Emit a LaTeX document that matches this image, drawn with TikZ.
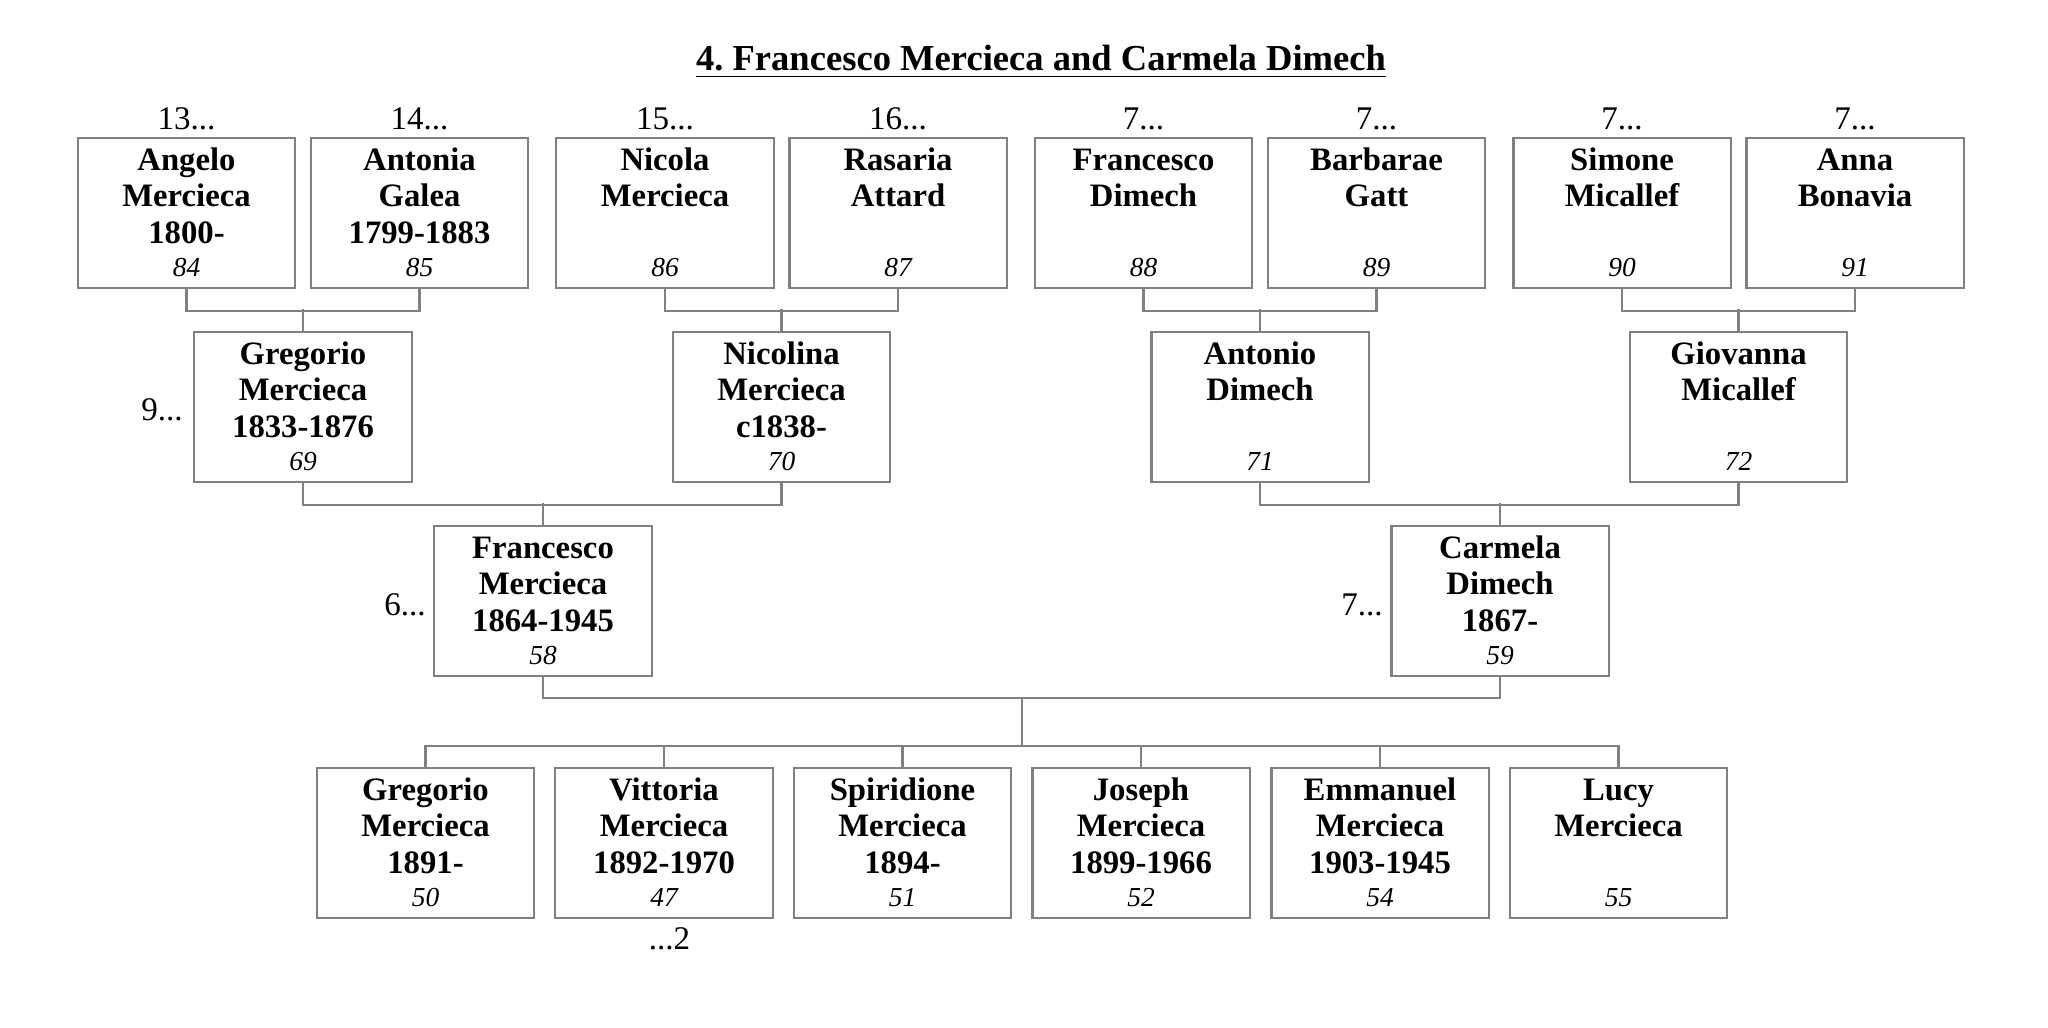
\documentclass[tikz,border=0pt]{standalone}
\usepackage{fontspec}
\setmainfont{Liberation Serif}
\usetikzlibrary{positioning}
\frenchspacing

\tikzset{
  pbox/.style={draw=black!50, line width=0.6pt, minimum width=2.17cm, minimum height=1.5cm, inner sep=0pt, anchor=north},
  pname/.style={anchor=north, align=center, inner sep=0pt, font=\fontsize{9.3}{10.4}\selectfont\bfseries},
  pnum/.style={anchor=base, inner sep=0pt, font=\fontsize{7.8}{9}\selectfont\itshape},
  ptag/.style={inner sep=0pt, font=\fontsize{9.4}{11}\selectfont},
  link/.style={draw=black!50, line width=0.6pt}
}
\newcommand{\person}[7]{%
  \node[pbox] (#1) at (#2,#3) {};
  \node[pname] (#1-name) at ([yshift=-0.07cm]#1.north) {\strut#4\\\strut#5\\\strut#6};
  \node[pnum] (#1-num) at ([yshift=0.13cm]#1.south) {#7};
}
\newcommand{\parents}[3]{%
  \draw[link] (#1.south) -- ++(0,22) -| (#2.south);
  \draw[link] (#3.north) -- ++(0,-22);
}

\begin{document}
\begin{tikzpicture}[x=0.01cm, y=-0.01cm]
\useasboundingbox (0,0) rectangle (2048,1028);
\node[anchor=base, inner sep=0pt, font=\fontsize{10.4}{12}\selectfont\bfseries] (title) at (1041,71) {\underline{4. Francesco Mercieca and Carmela Dimech}};

\person{p84}{186.5}{137}{Angelo}{Mercieca}{1800-}{84}
\person{p85}{419.5}{137}{Antonia}{Galea}{1799-1883}{85}
\person{p86}{665}{137}{Nicola}{Mercieca}{}{86}
\person{p87}{898}{137}{Rasaria}{Attard}{}{87}
\person{p88}{1143.5}{137}{Francesco}{Dimech}{}{88}
\person{p89}{1376.5}{137}{Barbarae}{Gatt}{}{89}
\person{p90}{1622}{137}{Simone}{Micallef}{}{90}
\person{p91}{1855}{137}{Anna}{Bonavia}{}{91}

\person{p69}{303}{331}{Gregorio}{Mercieca}{1833-1876}{69}
\person{p70}{781.5}{331}{Nicolina}{Mercieca}{c1838-}{70}
\person{p71}{1260}{331}{Antonio}{Dimech}{}{71}
\person{p72}{1738.5}{331}{Giovanna}{Micallef}{}{72}

\person{p58}{543}{525}{Francesco}{Mercieca}{1864-1945}{58}
\person{p59}{1500}{525}{Carmela}{Dimech}{1867-}{59}

\person{p50}{425.5}{767}{Gregorio}{Mercieca}{1891-}{50}
\person{p47}{664}{767}{Vittoria}{Mercieca}{1892-1970}{47}
\person{p51}{902.5}{767}{Spiridione}{Mercieca}{1894-}{51}
\person{p52}{1141}{767}{Joseph}{Mercieca}{1899-1966}{52}
\person{p54}{1380}{767}{Emmanuel}{Mercieca}{1903-1945}{54}
\person{p55}{1618.5}{767}{Lucy}{Mercieca}{}{55}

\node[ptag, anchor=base] (t84) at ([yshift=0.07cm]p84.north) {13...};
\node[ptag, anchor=base] (t85) at ([yshift=0.07cm]p85.north) {14...};
\node[ptag, anchor=base] (t86) at ([yshift=0.07cm]p86.north) {15...};
\node[ptag, anchor=base] (t87) at ([yshift=0.07cm]p87.north) {16...};
\node[ptag, anchor=base] (t88) at ([yshift=0.07cm]p88.north) {7...};
\node[ptag, anchor=base] (t89) at ([yshift=0.07cm]p89.north) {7...};
\node[ptag, anchor=base] (t90) at ([yshift=0.07cm]p90.north) {7...};
\node[ptag, anchor=base] (t91) at ([yshift=0.07cm]p91.north) {7...};
\node[ptag, anchor=base east] (t69) at ([xshift=-0.1cm, yshift=-0.135cm]p69.west) {9...};
\node[ptag, anchor=base east] (t58) at ([xshift=-0.07cm, yshift=-0.14cm]p58.west) {6...};
\node[ptag, anchor=base east] (t59) at ([xshift=-0.07cm, yshift=-0.14cm]p59.west) {7...};
\node[ptag, anchor=base] (t47) at ([xshift=0.055cm, yshift=-0.3cm]p47.south) {...2};

\parents{p84}{p85}{p69}
\parents{p86}{p87}{p70}
\parents{p88}{p89}{p71}
\parents{p90}{p91}{p72}
\parents{p69}{p70}{p58}
\parents{p71}{p72}{p59}

\coordinate (fam) at (1022,698);
\coordinate (kids) at (1022,746);
\draw[link] (p58.south) |- (fam) -| (p59.south);
\draw[link] (fam) -- (kids);
\foreach \k in {p50,p47,p51,p52,p54,p55}
  \draw[link] (kids) -| (\k.north);
\end{tikzpicture}
\end{document}
